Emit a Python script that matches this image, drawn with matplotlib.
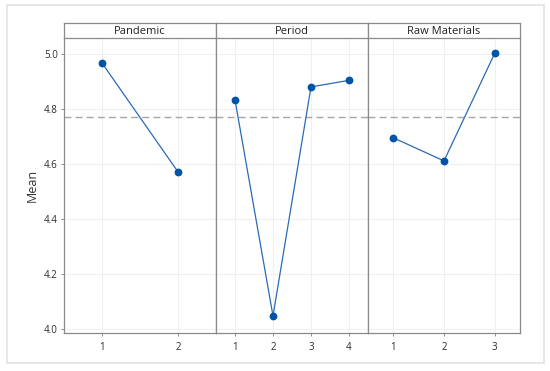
import matplotlib.pyplot as plt
from matplotlib.patches import Rectangle

plt.rcParams['font.family'] = ['Open Sans', 'DejaVu Sans']

factors = ['Pandemic', 'Period', 'Raw Materials']
pandemic_levels = [1, 2]
pandemic_means = [4.967, 4.571]
period_levels = [1, 2, 3, 4]
period_means = [4.833, 4.047, 4.880, 4.904]
raw_levels = [1, 2, 3]
raw_means = [4.695, 4.611, 5.002]
grand_mean = 4.77
yticks = [4.0, 4.2, 4.4, 4.6, 4.8, 5.0]

levels = [pandemic_levels, period_levels, raw_levels]
means = [pandemic_means, period_means, raw_means]

fig = plt.figure(figsize=(5.5, 3.71), dpi=100)
fig.patches.append(Rectangle((7 / 550, 1 - 363 / 371), 537 / 550, 358 / 371,
                             transform=fig.transFigure, fill=False,
                             edgecolor='#e3e3e3', linewidth=1.2))

left, right = 64 / 550, 520 / 550
bottom, top = 1 - 333 / 371, 1 - 38 / 371
strip_h = 15 / 371
w = (right - left) / 3

edge = '#8a8a8a'
for i in range(3):
    ax = fig.add_axes([left + i * w, bottom, w, top - bottom])
    x = levels[i]
    ax.set_xlim(0.5, len(x) + 0.5)
    ax.set_ylim(3.985, 5.058)
    ax.set_xticks(x)
    ax.set_xticklabels([str(v) for v in x])
    ax.set_yticks(yticks)
    ax.grid(True, color='#f0f0f0', linewidth=0.8)
    ax.set_axisbelow(True)
    ax.axhline(grand_mean, color='#a6a6a6', linestyle=(0, (5, 3)), linewidth=1)
    ax.plot(x, means[i], color='#2a6bb5', linewidth=0.9, marker='o',
            markersize=4.6, markerfacecolor='#0054a6', markeredgecolor='#0054a6')
    for s in ax.spines.values():
        s.set_color(edge)
        s.set_linewidth(0.9)
    ax.spines['top'].set_visible(False)
    if i > 0:
        ax.tick_params(axis='y', left=False, labelleft=False)
    ax.tick_params(axis='both', labelsize=7, colors='#2b2b2b',
                   length=2.5, width=0.7, color=edge, pad=2)
    ax.tick_params(axis='x', pad=4)

    sax = fig.add_axes([left + i * w, top, w, strip_h])
    sax.set_xticks([])
    sax.set_yticks([])
    for s in sax.spines.values():
        s.set_color(edge)
        s.set_linewidth(0.9)
    sax.text(0.5, 0.45, factors[i], ha='center', va='center', fontsize=8,
             color='#222222', transform=sax.transAxes)

    if i == 0:
        ax.set_ylabel('Mean', fontsize=9, color='#333333', labelpad=4)

fig.savefig('out.png', dpi=100)
